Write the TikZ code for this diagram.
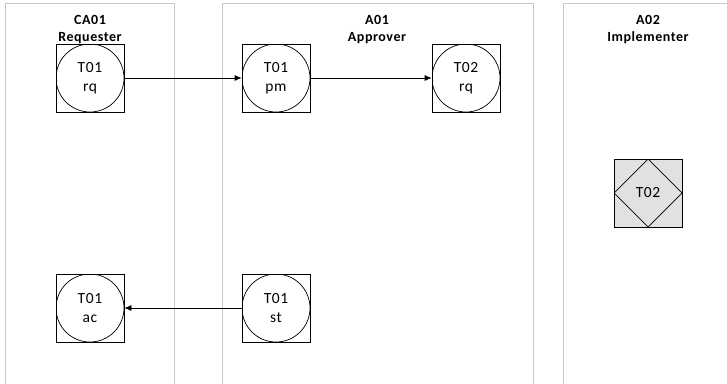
\documentclass[tikz,border=0pt]{standalone}
\usepackage{fontspec}
\setmainfont{Carlito}[LetterSpace=4]
\usetikzlibrary{arrows.meta}
\definecolor{laneGray}{RGB}{200,200,200}
\definecolor{shadeGray}{RGB}{225,225,225}

\begin{document}
\begin{tikzpicture}[x=1pt,y=-1pt,>={Latex[length=7pt,width=6pt]},line width=0.7pt,
  lane/.style={draw=laneGray,line width=0.9pt},
  lanetitle/.style={font=\fontsize{14}{17}\selectfont\bfseries,align=center,inner sep=0pt,anchor=north},
  actbox/.style={draw,minimum size=68pt,inner sep=0pt,align=center,font=\fontsize{15.5}{19.5}\selectfont,
    path picture={\draw (path picture bounding box.center) circle (34pt);}},
  execbox/.style={draw,fill=shadeGray,minimum size=68pt,inner sep=0pt,font=\fontsize{15.5}{19.5}\selectfont,
    path picture={\draw (path picture bounding box.north) -- (path picture bounding box.east)
      -- (path picture bounding box.south) -- (path picture bounding box.west) -- cycle;}}]
\useasboundingbox (0,0) rectangle (727,383);
% actor lanes
\draw[lane] (5,3) rectangle (174,395);
\draw[lane] (222,3) rectangle (533,395);
\draw[lane] (563,3) rectangle (740,395);
\node[lanetitle] (requester) at (90,15) {CA01\\Requester};
\node[lanetitle] (approver) at (377,15) {A01\\Approver};
\node[lanetitle] (implementer) at (648,15) {A02\\Implementer};
% transactions
\node[actbox] (rq1) at (90,78) {T01\\rq};
\node[actbox] (pm1) at (276,78) {T01\\pm};
\node[actbox] (rq2) at (466,78) {T02\\rq};
\node[execbox] (ex2) at (648,193) {T02};
\node[actbox] (ac1) at (90,308) {T01\\ac};
\node[actbox] (st1) at (276,308) {T01\\st};
\draw[->] (rq1) -- (pm1);
\draw[->] (pm1) -- (rq2);
\draw[->] (st1) -- (ac1);
\end{tikzpicture}
\end{document}
